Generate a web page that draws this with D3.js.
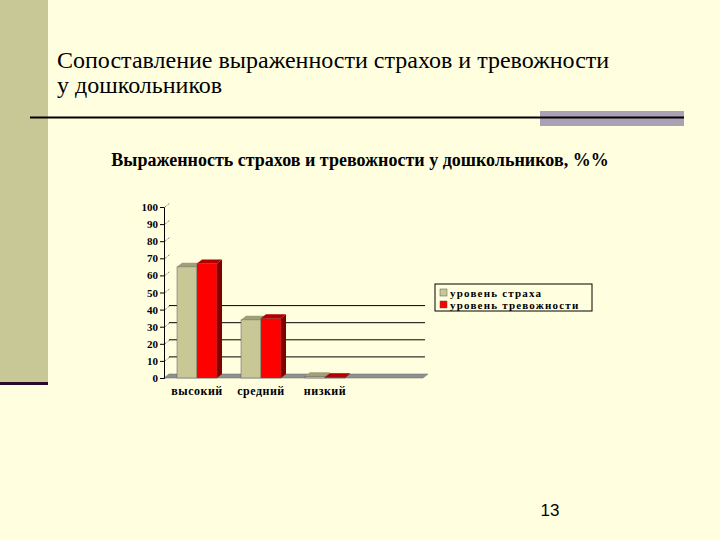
<!DOCTYPE html>
<html>
<head>
<meta charset="utf-8">
<script src="https://cdn.jsdelivr.net/npm/d3@7"></script>
<style>
  body { margin: 0; background: #ffffe0; }
  svg { display: block; }
  .serif { font-family: "Liberation Serif", "Times New Roman", serif; }
  .sans { font-family: "Liberation Sans", Arial, sans-serif; }
</style>
</head>
<body>
<svg id="chart" width="720" height="540"></svg>
<script>
// data
var categories = ["высокий", "средний", "низкий"];
var seriesNames = ["уровень страха", "уровень тревожности"];
var fearValues = [65, 34, 1];
var anxietyValues = [67, 35, 0.5];
var yTicks = [0, 10, 20, 30, 40, 50, 60, 70, 80, 90, 100];
var gridValues = [10, 20, 30, 40];

var colors = {"уровень страха": "#c8c896", "уровень тревожности": "#ff0000"};
var sideColors = {"уровень страха": "#8c8c64", "уровень тревожности": "#800000"};
var topColors = {"уровень страха": "#a0a078", "уровень тревожности": "#b00000"};

var svg = d3.select("#chart");

// slide decoration
svg.append("rect").attr("x", 0).attr("y", 0).attr("width", 720).attr("height", 540).attr("fill", "#ffffe0");
svg.append("rect").attr("x", 0).attr("y", 0).attr("width", 48).attr("height", 382).attr("fill", "#c8c896");
svg.append("rect").attr("x", 0).attr("y", 382).attr("width", 48).attr("height", 3).attr("fill", "#2a0a2a");
svg.append("rect").attr("x", 540).attr("y", 111).attr("width", 144).attr("height", 15).attr("fill", "#aaa2b4");
svg.append("line")
  .attr("x1", 30).attr("y1", 117.5)
  .attr("x2", 684).attr("y2", 117.5)
  .attr("stroke", "#000").attr("stroke-width", 2);

svg.append("text").attr("class", "serif")
  .attr("x", 57).attr("y", 68)
  .attr("font-size", 24)
  .text("Сопоставление выраженности страхов и тревожности");
svg.append("text").attr("class", "serif")
  .attr("x", 57).attr("y", 93)
  .attr("font-size", 24)
  .text("у дошкольников");

svg.append("text").attr("class", "serif")
  .attr("x", 360).attr("y", 166)
  .attr("text-anchor", "middle")
  .attr("font-weight", "bold")
  .attr("font-size", 18)
  .text("Выраженность страхов и тревожности у дошкольников, %%");

svg.append("text").attr("class", "sans")
  .attr("x", 550).attr("y", 516)
  .attr("text-anchor", "middle")
  .attr("font-size", 17)
  .text("13");

// chart
var dx = 5, dy = -4;
var axisX = 164;
var y = d3.scaleLinear().domain([0, 100]).range([378, 207]);
var x0 = d3.scaleBand().domain(categories).range([153, 369]).padding(0.375);
var x1 = d3.scaleBand().domain(seriesNames).range([0, x0.bandwidth()]);

var g = svg.append("g");

// back wall gridlines
g.selectAll(".grid").data(gridValues).enter().append("line")
  .attr("x1", axisX + dx).attr("x2", 425)
  .attr("y1", function(d){ return y(d) + dy; })
  .attr("y2", function(d){ return y(d) + dy; })
  .attr("stroke", "#000").attr("stroke-width", 1);

// small depth dashes by the axis
g.selectAll(".dash").data(yTicks).enter().append("line")
  .attr("x1", axisX + 1).attr("y1", function(d){ return y(d); })
  .attr("x2", axisX + dx + 1).attr("y2", function(d){ return y(d) + dy; })
  .attr("stroke", "#000").attr("stroke-width", 0.6).attr("stroke-dasharray", "1,1");

// floor
g.append("path")
  .attr("d", "M" + axisX + "," + y(0) + " L" + (axisX + dx) + "," + (y(0) + dy) +
             " L" + (423 + dx) + "," + (y(0) + dy) + " L423," + y(0) + " Z")
  .attr("fill", "#909090").attr("stroke", "#666").attr("stroke-width", 0.5);

var yAxis = d3.axisLeft(y).tickValues(yTicks).tickSize(4).tickPadding(2);
var axisG = g.append("g").attr("transform", "translate(" + axisX + ",0)").call(yAxis);
axisG.select(".domain").attr("stroke", "#000");
axisG.selectAll("text")
  .attr("class", "serif")
  .attr("font-family", null)
  .attr("font-weight", "bold")
  .attr("font-size", 11)
  .attr("fill", "#000");

var rows = [];
categories.forEach(function(c, i){
  rows.push({cat: c, s: seriesNames[0], v: fearValues[i]});
  rows.push({cat: c, s: seriesNames[1], v: anxietyValues[i]});
});

var bars = g.selectAll(".bar").data(rows).enter().append("g");
bars.append("path")
  .attr("d", function(d){
    var l = x0(d.cat) + x1(d.s), r = l + x1.bandwidth(), t = y(d.v);
    return "M" + r + "," + y(0) + " L" + (r + dx) + "," + (y(0) + dy) +
           " L" + (r + dx) + "," + (t + dy) + " L" + r + "," + t + " Z";
  })
  .attr("fill", function(d){ return sideColors[d.s]; });
bars.append("path")
  .attr("d", function(d){
    var l = x0(d.cat) + x1(d.s), r = l + x1.bandwidth(), t = y(d.v);
    return "M" + l + "," + t + " L" + (l + dx) + "," + (t + dy) +
           " L" + (r + dx) + "," + (t + dy) + " L" + r + "," + t + " Z";
  })
  .attr("fill", function(d){ return topColors[d.s]; });
bars.append("rect")
  .attr("x", function(d){ return x0(d.cat) + x1(d.s); })
  .attr("y", function(d){ return y(d.v); })
  .attr("width", x1.bandwidth())
  .attr("height", function(d){ return y(0) - y(d.v); })
  .attr("fill", function(d){ return colors[d.s]; })
  .attr("stroke", "#555").attr("stroke-width", 0.5);

var xAxis = d3.axisBottom(x0).tickSize(0).tickPadding(8);
var xg = g.append("g").attr("transform", "translate(0," + y(0) + ")").call(xAxis);
xg.select(".domain").remove();
xg.selectAll("text")
  .attr("class", "serif")
  .attr("font-family", null)
  .attr("font-weight", "bold")
  .attr("font-size", 12)
  .attr("letter-spacing", 0.5)
  .attr("fill", "#000");

// legend
var leg = svg.append("g").attr("transform", "translate(435,284)");
leg.append("rect").attr("width", 157).attr("height", 27)
  .attr("fill", "#ffffe0").attr("stroke", "#000").attr("stroke-width", 1);
var items = leg.selectAll(".item").data(seriesNames).enter().append("g")
  .attr("transform", function(d, i){ return "translate(5," + (3 + i * 12) + ")"; });
items.append("rect").attr("width", 7).attr("height", 7).attr("y", 2)
  .attr("fill", function(d){ return colors[d]; }).attr("stroke", "#555").attr("stroke-width", 0.5);
items.append("text").attr("class", "serif").attr("x", 10).attr("y", 9.5)
  .attr("font-weight", "bold")
  .attr("font-size", 11)
  .attr("letter-spacing", 1.2)
  .text(function(d){ return d; });
</script>
</body>
</html>
